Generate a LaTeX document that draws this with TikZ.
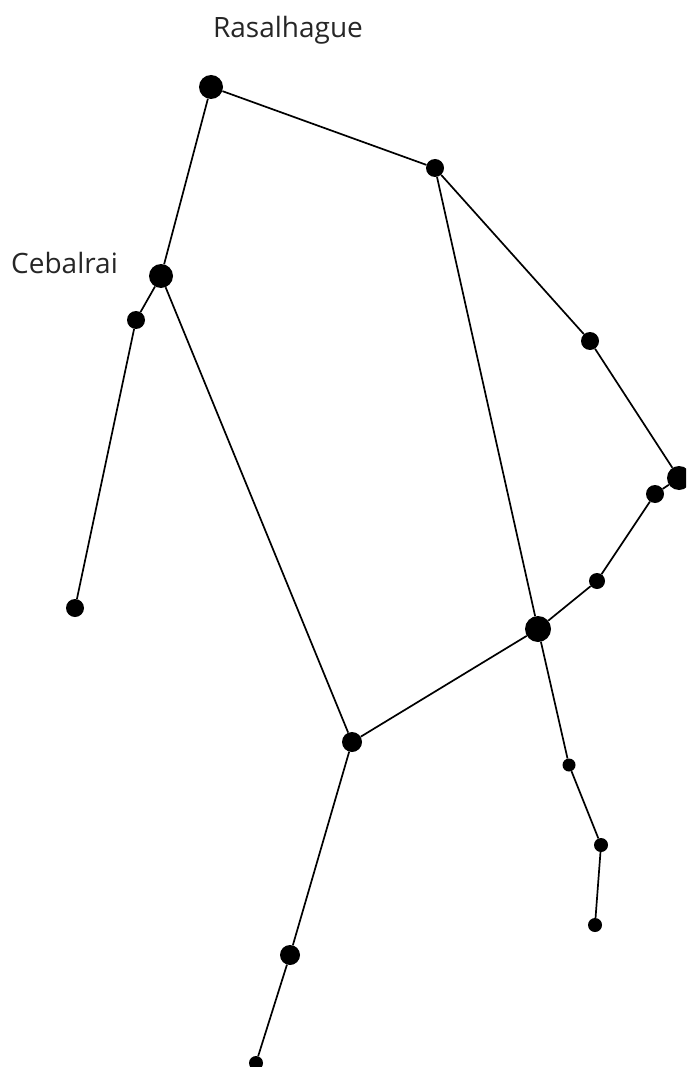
\documentclass[tikz,border=0pt]{standalone}
\usepackage{fontspec}
\setmainfont{Open Sans}
\usetikzlibrary{positioning}
\tikzset{
  bright/.style={circle, fill=black, inner sep=0pt, minimum size=24pt},
  mid/.style={circle, fill=black, inner sep=0pt, minimum size=18pt},
  faint/.style={circle, fill=black, inner sep=0pt, minimum size=14pt},
  starname/.style={font=\fontsize{28}{32}\selectfont, text=black!85, anchor=base, inner sep=0pt},
  link/.style={line width=1.7pt, black},
}
\begin{document}
\begin{tikzpicture}[x=1pt, y=-1pt]
  \useasboundingbox (0,0) rectangle (686,1067);
  \clip (0,0) rectangle (686,1067);
  \node[bright] (rasalhague) at (211,87)  {};
  \node[mid]    (kappa)      at (435,168) {};
  \node[bright] (cebalrai)   at (161,276) {};
  \node[mid]    (gamma)      at (136,320) {};
  \node[mid]    (nu)         at (75,608)  {};
  \node[mid]    (iota)       at (590,341) {};
  \node[bright] (zetaher)    at (679,478) {};
  \node[mid]    (lambda)     at (655,494) {};
  \node[faint, minimum size=16pt] (delta) at (597,581) {};
  \node[bright, minimum size=26pt] (epsilon) at (538,629) {};
  \node[mid, minimum size=20pt] (eta) at (352,742) {};
  \node[faint, minimum size=13pt] (zeta) at (569,765) {};
  \node[faint]  (phi)        at (601,845) {};
  \node[faint]  (omega)      at (595,925) {};
  \node[mid, minimum size=20pt] (theta) at (290,955) {};
  \node[faint]  (xi)         at (256,1063) {};

  \node[starname] (lblras) at (288,38)  {Rasalhague};
  \node[starname] (lblceb) at (64.5,273) {Cebalrai};

  \draw[link] (rasalhague) -- (kappa);
  \draw[link] (rasalhague) -- (cebalrai);
  \draw[link] (cebalrai) -- (gamma) -- (nu);
  \draw[link] (cebalrai) -- (eta);
  \draw[link] (kappa) -- (epsilon);
  \draw[link] (kappa) -- (iota) -- (zetaher) -- (lambda) -- (delta) -- (epsilon);
  \draw[link] (epsilon) -- (eta);
  \draw[link] (epsilon) -- (zeta) -- (phi) -- (omega);
  \draw[link] (eta) -- (theta) -- (xi);
\end{tikzpicture}
\end{document}
